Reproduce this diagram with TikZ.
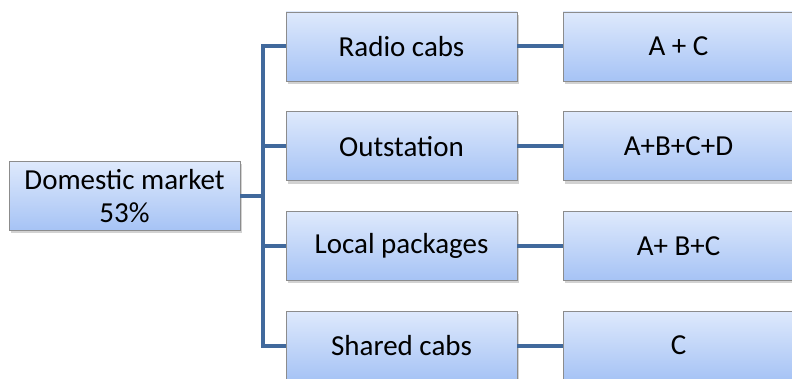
\documentclass[tikz,border=0pt]{standalone}
\usepackage{fontspec}
\setmainfont{Carlito}
\usetikzlibrary{trees,shadows}
\definecolor{linkblue}{HTML}{41699C}
\definecolor{boxtop}{HTML}{DEE9FC}
\definecolor{boxbot}{HTML}{A6C3F5}
\definecolor{boxline}{HTML}{8C8C8C}
\tikzset{
  cabbox/.style={rectangle,draw=boxline,line width=0.8pt,top color=boxtop,bottom color=boxbot,
    minimum width=231pt,minimum height=69pt,inner sep=0pt,align=center,
    font=\fontsize{29}{33}\selectfont,
    drop shadow={shadow xshift=2pt,shadow yshift=-3pt,fill=black!35}}
}
\begin{document}
\begin{tikzpicture}[x=1pt,y=1pt,grow'=right,level distance=277pt,
  level 1/.style={sibling distance=99.7pt},
  edge from parent fork right,
  edge from parent/.style={draw=linkblue,line width=4pt}]
\useasboundingbox (0,0) rectangle (792,379);
\node [cabbox] (dom) at (124.5,183) {Domestic market\\53\%}
  child {node [cabbox] (radio) {Radio cabs}
    child {node [cabbox] (radiomix) {A + C}}
  }
  child {node [cabbox] (outst) {Outstation}
    child {node [cabbox] (outstmix) {A+B+C+D}}
  }
  child {node [cabbox] (local) {Local packages}
    child {node [cabbox] (localmix) {A+ B+C}}
  }
  child {node [cabbox] (shared) {Shared cabs}
    child {node [cabbox] (sharedmix) {C}}
  };
\end{tikzpicture}
\end{document}
